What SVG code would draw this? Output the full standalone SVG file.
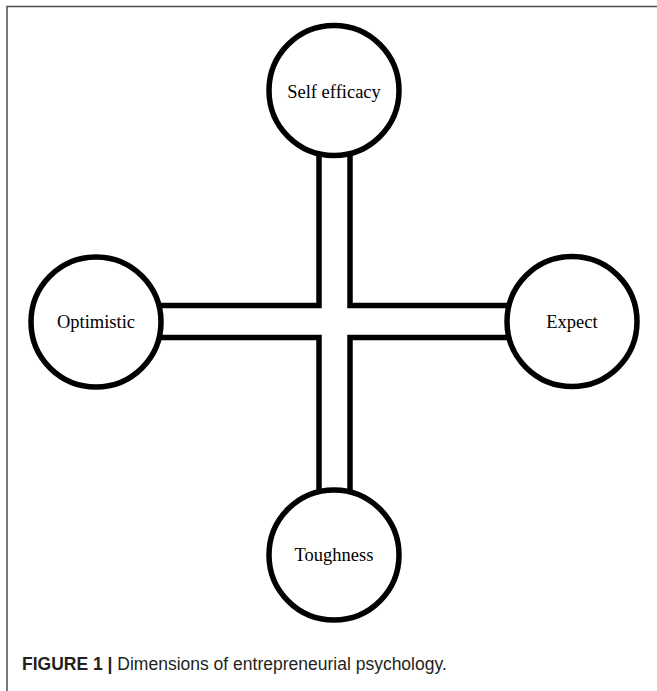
<svg xmlns="http://www.w3.org/2000/svg" width="657" height="691" viewBox="0 0 657 691">
  <style>
    .node circle { fill: #ffffff; stroke: #000000; stroke-width: 5.5; }
    .node text { font-family: "Liberation Serif", "Times New Roman", serif; font-size: 18.5px; fill: #000000; text-anchor: middle; }
    .conn path { fill: none; stroke: #000000; stroke-width: 5.5; stroke-linejoin: miter; }
    .frame { fill: none; stroke: #4d4d4d; stroke-width: 1.5; }
    .caption { font-family: "Liberation Sans", Arial, sans-serif; font-size: 17.5px; fill: #231f20; }
  </style>
  <rect width="657" height="691" fill="#ffffff"/>
  <path class="frame" d="M7,691 V6.5 H657"/>
  <g id="connectors" class="conn">
    <path d="M319,148 V305.5 H150"/>
    <path d="M350,148 V305.5 H515"/>
    <path d="M319,497 V337.5 H150"/>
    <path d="M350,497 V337.5 H515"/>
  </g>
  <g id="node-self-efficacy" class="node">
    <circle cx="334" cy="90.5" r="65"/>
    <text x="334" y="97.5">Self efficacy</text>
  </g>
  <g id="node-optimistic" class="node">
    <circle cx="96" cy="322" r="65"/>
    <text x="96" y="328">Optimistic</text>
  </g>
  <g id="node-expect" class="node">
    <circle cx="572" cy="321.5" r="65"/>
    <text x="572" y="328">Expect</text>
  </g>
  <g id="node-toughness" class="node">
    <circle cx="334" cy="555" r="65"/>
    <text x="334" y="561">Toughness</text>
  </g>
  <text class="caption" x="22" y="670"><tspan font-weight="bold">FIGURE 1 | </tspan>Dimensions of entrepreneurial psychology.</text>
</svg>
